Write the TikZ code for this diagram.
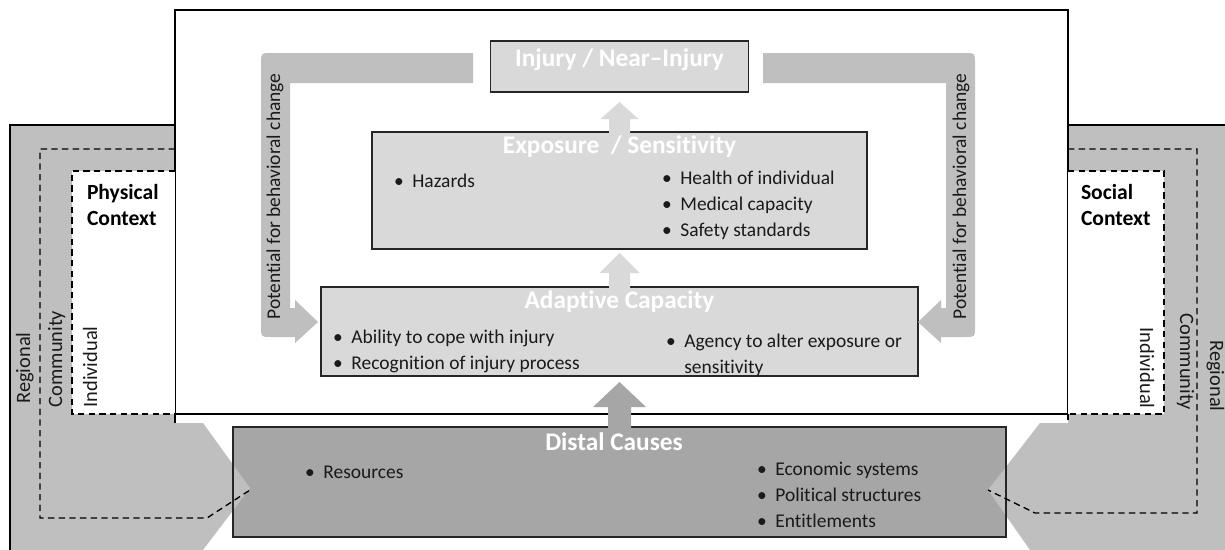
\documentclass[tikz,border=0pt]{standalone}
\usepackage{fontspec}
\setmainfont{Carlito}[Ligatures=NoCommon]
\usetikzlibrary{calc,fit}

\definecolor{sidegray}{HTML}{BFBFBF}
\definecolor{boxgray}{HTML}{D9D9D9}
\definecolor{darkbox}{HTML}{A6A6A6}
\definecolor{inktext}{HTML}{1A1A1A}

\newcommand\bodyfont{\fontsize{14.6pt}{19.5pt}\selectfont}
\newcommand\titlefont{\fontsize{19pt}{23pt}\selectfont\bfseries}
\newcommand\levelfont{\fontsize{15.3pt}{18pt}\selectfont}
\newcommand\ctxfont{\fontsize{16.2pt}{19.5pt}\selectfont\bfseries}

% bullet list: bullet column plus text column, first baseline on top
\newcommand\blist[1]{\begin{tabular}[t]{@{}l@{\hspace{6.5pt}}l@{}}#1\end{tabular}}
\newcommand\stack[1]{\begin{tabular}[t]{@{}l@{}}#1\end{tabular}}

% upward block arrow: colour, base point, tip point, half shaft, half head, head length
\newcommand\blockup[6]{%
  \fill[#1] ($(#2)+(-#4,0)$) -- ($(#3)+(-#4,#6)$) -- ($(#3)+(-#5,#6)$) -- (#3)
    -- ($(#3)+(#5,#6)$) -- ($(#3)+(#4,#6)$) -- ($(#2)+(#4,0)$) -- cycle;}

\begin{document}
\begin{tikzpicture}[x=0.75pt,y=-0.75pt,
  every node/.style={inner sep=0pt,outer sep=0pt},
  frameline/.style={draw=black,line width=1pt},
  boxline/.style={draw=black!85,line width=1.1pt},
  lightbox/.style={boxline,fill=boxgray},
  distalbox/.style={boxline,fill=darkbox},
  zone/.style={draw=black,line width=1pt,dash pattern=on 4.8pt off 3.2pt},
  title/.style={text=white,font=\titlefont,anchor=base},
  item/.style={font=\bodyfont,text=inktext,anchor=base west},
  bandtext/.style={font=\bodyfont,text=inktext,rotate=90,anchor=base},
  levelL/.style={font=\levelfont,text=inktext,rotate=90,anchor=base},
  levelR/.style={font=\levelfont,text=inktext,rotate=-90,anchor=base},
  ctx/.style={font=\ctxfont,text=black,anchor=base west}]
\useasboundingbox (0,0) rectangle (1225,550);

% distal causes box (bottom)
\node[distalbox,fit={(233,427) (1006,537)}] (distal) {};

% outer regional areas with their wedge-shaped ends
\fill[sidegray] (10,125) -- (175,125) -- (175,423) -- (203,423) -- (250,488)
  -- (203,550) -- (10,550) -- cycle;
\draw[frameline] (10,550) -- (10,125) -- (175,125);
\fill[sidegray] (1068,125) -- (1225,125) -- (1225,550) -- (1030,550) -- (988,490)
  -- (1040,423) -- (1068,423) -- cycle;
\draw[frameline] (1068,125) -- (1225,125);
\draw[boxline] (distal.north west) rectangle (distal.south east);

% central panel
\node[fill=white,frameline,fit={(175,10) (1068,414)}] (core) {};
\draw[frameline] (core.south west) -- ++(0,9);
\draw[frameline] (core.south east) -- ++(0,6);

% individual and community zones, left
\fill[white] (72,171) rectangle (175,414);
\draw[zone] (175,171) -- (72,171) -- (72,414) -- (175,414);
\draw[zone] (175,149) -- (40,149) -- (40,518) -- (207,518) -- (250,490);
% individual and community zones, right
\fill[white] (1068,171) rectangle (1164,414);
\draw[zone] (1068,171) -- (1164,171) -- (1164,414) -- (1068,414);
\draw[zone] (1068,149) -- (1197,149) -- (1197,513) -- (1035,513) -- (988,490);

% inner boxes
\node[lightbox,fit={(490.5,41) (748.5,92)}] (injury) {};
\node[lightbox,fit={(372,132) (867,249)}] (expo) {};
\node[lightbox,fit={(321,287) (918,376)}] (adapt) {};

% feedback bands
\coordinate (tipL) at ($(adapt.west)+(-3,-9.5)$);
\coordinate (tipR) at ($(adapt.east)+(0,-9.5)$);
\fill[sidegray] (473,53) -- (271,53) .. controls (261,53) .. (261,63) -- (261,327)
  .. controls (261,337) .. (271,337) -- (295,337) -- (295,343) -- (tipL)
  -- (295,300) -- (295,308) -- (290,308) -- (290,83) -- (473,83) -- cycle;
\fill[sidegray] (763,53) -- (965,53) .. controls (975,53) .. (975,63) -- (975,327)
  .. controls (975,337) .. (965,337) -- (941,337) -- (941,343) -- (tipR)
  -- (941,300) -- (941,308) -- (946,308) -- (946,83) -- (763,83) -- cycle;
\node[bandtext] (fbL) at (280,196.5) {Potential for behavioral change};
\node[bandtext] (fbR) at (966,196.5) {Potential for behavioral change};

% upward arrows between boxes
\coordinate (a1b) at ($(expo.north)+(0,2)$);
\coordinate (a1t) at ($(injury.south)+(0,10)$);
\blockup{boxgray}{a1b}{a1t}{10.5}{19}{17}
\coordinate (a2b) at ($(adapt.north)+(0,2)$);
\coordinate (a2t) at ($(expo.south)+(0,4)$);
\blockup{boxgray}{a2b}{a2t}{10.5}{20}{20}
\coordinate (a3b) at ($(distal.north)+(0,3)$);
\coordinate (a3t) at ($(adapt.south)+(0,6)$);
\blockup{darkbox}{a3b}{a3t}{11.5}{26.5}{25}

% titles
\node[title] (tInj) at (619.5,66) {Injury / Near–Injury};
\node[title] (tExp) at (619.5,153) {Exposure\ \ / Sensitivity};
\node[title] (tAda) at (619.5,308) {Adaptive Capacity};
\node[title] (tDis) at (614,450) {Distal Causes};

% bullet items
\node[item] (hz) at (394,187.5) {\blist{\textbullet & Hazards}};
\node[item] (hl) at (662,184.5) {\blist{\textbullet & Health of individual\\
  \textbullet & Medical capacity\\ \textbullet & Safety standards}};
\node[item] (ab) at (333,343.5) {\blist{\textbullet & Ability to cope with injury\\
  \textbullet & Recognition of injury process}};
\node[item] (ag) at (666,347) {\blist{\textbullet & Agency to alter exposure or\\
  & sensitivity}};
\node[item] (rs) at (305,478.5) {\blist{\textbullet & Resources}};
\node[item] (ec) at (757,475.5) {\blist{\textbullet & Economic systems\\
  \textbullet & Political structures\\ \textbullet & Entitlements}};

% context labels
\node[ctx] (phys) at (87,199) {\stack{Physical\\ Context}};
\node[ctx] (soc) at (1081,199) {\stack{Social\\ Context}};

% level labels
\node[levelL] (regL) at (30,368) {Regional};
\node[levelL] (comL) at (62,359) {Community};
\node[levelL] (indL) at (97,367) {Individual};
\node[levelR] (regR) at (1210,376) {Regional};
\node[levelR] (comR) at (1180,362) {Community};
\node[levelR] (indR) at (1140,368) {Individual};
\end{tikzpicture}
\end{document}
